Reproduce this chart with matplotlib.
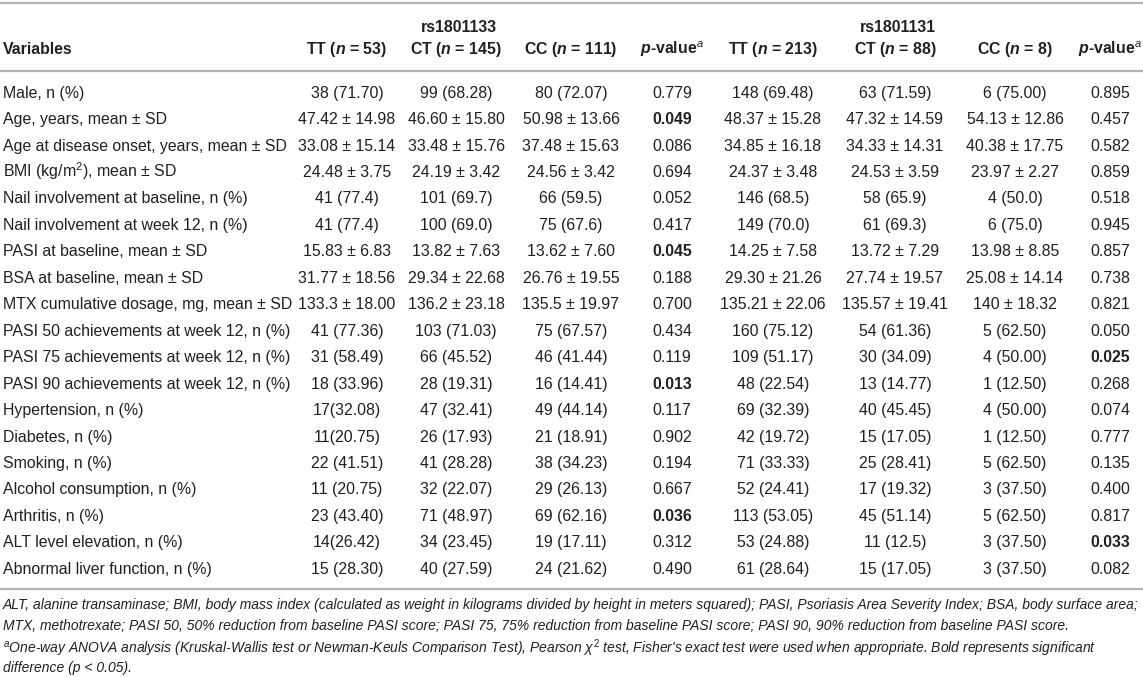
import matplotlib
matplotlib.use("Agg")
import matplotlib.pyplot as plt
from matplotlib import font_manager as fm

# ---------------- data ----------------
variables = [
    "Male, n (%)",
    "Age, years, mean ± SD",
    "Age at disease onset, years, mean ± SD",
    "BMI (kg/m$^{\\mathrm{2}}$), mean ± SD",
    "Nail involvement at baseline, n (%)",
    "Nail involvement at week 12, n (%)",
    "PASI at baseline, mean ± SD",
    "BSA at baseline, mean ± SD",
    "MTX cumulative dosage, mg, mean ± SD",
    "PASI 50 achievements at week 12, n (%)",
    "PASI 75 achievements at week 12, n (%)",
    "PASI 90 achievements at week 12, n (%)",
    "Hypertension, n (%)",
    "Diabetes, n (%)",
    "Smoking, n (%)",
    "Alcohol consumption, n (%)",
    "Arthritis, n (%)",
    "ALT level elevation, n (%)",
    "Abnormal liver function, n (%)",
]

rs1801133_TT = ["38 (71.70)", "47.42 ± 14.98", "33.08 ± 15.14", "24.48 ± 3.75", "41 (77.4)",
                "41 (77.4)", "15.83 ± 6.83", "31.77 ± 18.56", "133.3 ± 18.00", "41 (77.36)",
                "31 (58.49)", "18 (33.96)", "17(32.08)", "11(20.75)", "22 (41.51)",
                "11 (20.75)", "23 (43.40)", "14(26.42)", "15 (28.30)"]
rs1801133_CT = ["99 (68.28)", "46.60 ± 15.80", "33.48 ± 15.76", "24.19 ± 3.42", "101 (69.7)",
                "100 (69.0)", "13.82 ± 7.63", "29.34 ± 22.68", "136.2 ± 23.18", "103 (71.03)",
                "66 (45.52)", "28 (19.31)", "47 (32.41)", "26 (17.93)", "41 (28.28)",
                "32 (22.07)", "71 (48.97)", "34 (23.45)", "40 (27.59)"]
rs1801133_CC = ["80 (72.07)", "50.98 ± 13.66", "37.48 ± 15.63", "24.56 ± 3.42", "66 (59.5)",
                "75 (67.6)", "13.62 ± 7.60", "26.76 ± 19.55", "135.5 ± 19.97", "75 (67.57)",
                "46 (41.44)", "16 (14.41)", "49 (44.14)", "21 (18.91)", "38 (34.23)",
                "29 (26.13)", "69 (62.16)", "19 (17.11)", "24 (21.62)"]
rs1801133_p = ["0.779", "0.049", "0.086", "0.694", "0.052", "0.417", "0.045", "0.188", "0.700",
               "0.434", "0.119", "0.013", "0.117", "0.902", "0.194", "0.667", "0.036", "0.312", "0.490"]

rs1801131_TT = ["148 (69.48)", "48.37 ± 15.28", "34.85 ± 16.18", "24.37 ± 3.48", "146 (68.5)",
                "149 (70.0)", "14.25 ± 7.58", "29.30 ± 21.26", "135.21 ± 22.06", "160 (75.12)",
                "109 (51.17)", "48 (22.54)", "69 (32.39)", "42 (19.72)", "71 (33.33)",
                "52 (24.41)", "113 (53.05)", "53 (24.88)", "61 (28.64)"]
rs1801131_CT = ["63 (71.59)", "47.32 ± 14.59", "34.33 ± 14.31", "24.53 ± 3.59", "58 (65.9)",
                "61 (69.3)", "13.72 ± 7.29", "27.74 ± 19.57", "135.57 ± 19.41", "54 (61.36)",
                "30 (34.09)", "13 (14.77)", "40 (45.45)", "15 (17.05)", "25 (28.41)",
                "17 (19.32)", "45 (51.14)", "11 (12.5)", "15 (17.05)"]
rs1801131_CC = ["6 (75.00)", "54.13 ± 12.86", "40.38 ± 17.75", "23.97 ± 2.27", "4 (50.0)",
                "6 (75.0)", "13.98 ± 8.85", "25.08 ± 14.14", "140 ± 18.32", "5 (62.50)",
                "4 (50.00)", "1 (12.50)", "4 (50.00)", "1 (12.50)", "5 (62.50)",
                "3 (37.50)", "5 (62.50)", "3 (37.50)", "3 (37.50)"]
rs1801131_p = ["0.895", "0.457", "0.582", "0.859", "0.518", "0.945", "0.857", "0.738", "0.821",
               "0.050", "0.025", "0.268", "0.074", "0.777", "0.135", "0.400", "0.817", "0.033", "0.082"]

group_labels = ["rs1801133", "rs1801131"]
col_headers = ["TT ($\\mathbfit{n}$ = 53)", "CT ($\\mathbfit{n}$ = 145)", "CC ($\\mathbfit{n}$ = 111)",
               "$\\mathbfit{p}$-value$^{\\mathit{a}}$",
               "TT ($\\mathbfit{n}$ = 213)", "CT ($\\mathbfit{n}$ = 88)", "CC ($\\mathbfit{n}$ = 8)",
               "$\\mathbfit{p}$-value$^{\\mathit{a}}$"]

footnotes = [
    "ALT, alanine transaminase; BMI, body mass index (calculated as weight in kilograms divided by height in meters squared); PASI, Psoriasis Area Severity Index; BSA, body surface area;",
    "MTX, methotrexate; PASI 50, 50% reduction from baseline PASI score; PASI 75, 75% reduction from baseline PASI score; PASI 90, 90% reduction from baseline PASI score.",
    "$^{a}$One-way ANOVA analysis (Kruskal-Wallis test or Newman-Keuls Comparison Test), Pearson $\\chi^{\\mathrm{2}}$ test, Fisher's exact test were used when appropriate. Bold represents significant",
    "difference (p < 0.05).",
]

# ---------------- style ----------------
FONT = "Liberation Sans"
plt.rcParams["font.family"] = [FONT, "DejaVu Sans"]
plt.rcParams["mathtext.fontset"] = "custom"
plt.rcParams["mathtext.rm"] = FONT
plt.rcParams["mathtext.it"] = FONT + ":italic"
plt.rcParams["mathtext.bf"] = FONT + ":bold"
plt.rcParams["mathtext.bfit"] = FONT + ":bold:italic"

TXT = "#231f20"
RULE = "#b3b3b3"
FS = 11.4
CAP_HALF = 0.716 * FS * 100 / 72 / 2   # half cap height in px -> baseline offset

W, H = 1143, 677
fig = plt.figure(figsize=(W / 100, H / 100), dpi=100)
ax = fig.add_axes([0, 0, 1, 1])
ax.set_xlim(0, W)
ax.set_ylim(H, 0)
ax.axis("off")

col_x = [347, 456, 571, 672, 773, 895, 1015, 1110]
group_x = [459, 898]
label_x = 3
y_group = 26
y_head = 48
y_row0 = 92
dy = 26.45

# rules
for yr in (3, 71, 589):
    ax.axhline(yr, color=RULE, lw=1.6)

def put(x, y, s, ha, **kw):
    ax.text(x, y + CAP_HALF, s, ha=ha, va="baseline", fontsize=FS, color=TXT, **kw)

# header
for gx, g in zip(group_x, group_labels):
    put(gx, y_group, g, "center", fontweight="bold")
put(label_x, y_head, "Variables", "left", fontweight="bold")
for cx, h in zip(col_x, col_headers):
    put(cx, y_head, h, "center", fontweight="bold")

# body
columns = [rs1801133_TT, rs1801133_CT, rs1801133_CC, rs1801133_p,
           rs1801131_TT, rs1801131_CT, rs1801131_CC, rs1801131_p]
is_p = [False, False, False, True, False, False, False, True]
for i, var in enumerate(variables):
    y = y_row0 + i * dy
    put(label_x, y, var, "left")
    for cx, col, pcol in zip(col_x, columns, is_p):
        val = col[i]
        bold = pcol and float(val) < 0.05
        put(cx, y, val, "center", fontweight="bold" if bold else "normal")

# footnotes (narrow italic)
try:
    fm.findfont("Liberation Sans Narrow", fallback_to_default=False)
    NARROW = "Liberation Sans Narrow"
except Exception:
    NARROW = FONT
renderer = fig.canvas.get_renderer()
probe = ax.text(4, 0, footnotes[0], fontsize=10, family=NARROW, style="italic")
wpx = probe.get_window_extent(renderer).width
probe.remove()
ffs = min(10 * 1134 / wpx, 11.5)
fy = [605, 626.5, 648, 668]
for y, t in zip(fy, footnotes):
    ax.text(3, y, t, ha="left", va="center", fontsize=ffs, family=NARROW, style="italic", color=TXT)

fig.savefig("out.png", dpi=100)
